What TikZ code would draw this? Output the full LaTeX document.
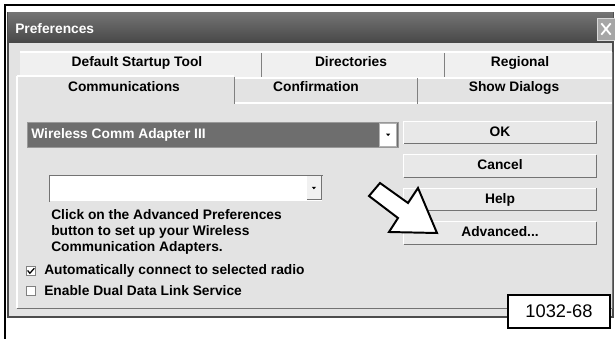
\documentclass[tikz,border=0pt]{standalone}
\usepackage{fontspec}
\setmainfont{Liberation Sans}
\usetikzlibrary{positioning, calc}
\def\BodyColor{black!11}
\def\TitleColor{black!66}
\def\ComboColor{black!57}
\def\BtnColor{black!9}

\begin{document}
\begin{tikzpicture} [x=0.25mm, y=-0.25mm,
     T/.style = {font=\fontsize{9.8}{11.4}\selectfont\bfseries, inner sep=0pt},
   tab/.style = {T, text height=7pt, text depth=2pt},
   btn/.style = {tab, fill=\BtnColor, minimum width=48mm, minimum height=5.5mm},
   chk/.style = {draw=black!50, fill=white, minimum size=2.3mm, inner sep=0pt},
   sep/.style = {draw=black!50, line width=0.7pt},
  dark/.style = {draw=black!55, line width=0.7pt}
]
  \useasboundingbox (0,0) rectangle (615,339);

  % Frame and window
  \draw[line width=0.8pt] (5,339) -- (5,5) -- (615,5);
  \draw[draw=black!70, line width=1pt, fill=\BodyColor] (8,13) rectangle (613,317);
  \fill[top color=black!55, bottom color=black!72] (8,13) rectangle (613,43);
  \node[T, text=white, anchor=west] (title) at (15,29) {Preferences};
  \node[draw=white!85!black, fill=black!35, minimum width=4.5mm, minimum height=5.5mm, inner sep=0pt] (close) at (606,29) {};
  \draw[white, line width=1.3pt] ($(close.north west)!0.25!(close.south east)$) -- ($(close.north west)!0.75!(close.south east)$);
  \draw[white, line width=1.3pt] ($(close.south west)!0.25!(close.north east)$) -- ($(close.south west)!0.75!(close.north east)$);

  % Tabs
  \fill[white!45!\BodyColor] (20,52) rectangle (612,77);
  \draw[white, line width=0.8pt] (20,52) -- (612,52);
  \draw[sep] (261,53) -- (261,77);
  \draw[sep] (444,53) -- (444,77);
  \draw[white, line width=0.8pt] (17,76) -- (234,76);
  \draw[white, line width=0.8pt] (234,78) -- (612,78);
  \draw[white, line width=0.8pt] (234,103) -- (612,103);
  \draw[sep] (234,77) -- (234,104);
  \draw[sep] (417,78) -- (417,104);
  \draw[white, line width=0.8pt] (17,76) -- (17,308);
  \draw[dark] (17,308) -- (612,308) -- (612,52);

  \node[tab] (tdefault) at (137,63) {Default Startup Tool};
  \node[tab] (tdir)     at (351,63) {Directories};
  \node[tab] (treg)     at (520,63) {Regional};
  \node[tab] (tcomm)    at (124,88) {Communications};
  \node[tab] (tconf)    at (316,88) {Confirmation};
  \node[tab] (tshow)    at (514,88) {Show Dialogs};

  % Adapter combo
  \node[draw=black!40, fill=\ComboColor, minimum width=92.75mm, minimum height=6.25mm, inner sep=0pt, anchor=north west] (combo) at (27,122) {};
  \node[T, text=white, anchor=west] (adapter) at (31,134.5) {Wireless Comm Adapter III};
  \node[fill=white, draw=black!30, minimum width=4.3mm, minimum height=5.7mm, inner sep=0pt, anchor=north east] (drop) at (397,123) {};
  \fill ([xshift=-1.5pt,yshift=0.7pt]drop.center) -- ([xshift=1.5pt,yshift=0.7pt]drop.center) -- ([yshift=-1pt]drop.center) -- cycle;

  % Empty combo
  \node[fill=white, minimum width=68.25mm, minimum height=6.5mm, inner sep=0pt, anchor=north west] (combob) at (49,175) {};
  \draw[dark] (combob.south west) -- (combob.north west) -- (combob.north east);
  \node[fill=white!50!\BodyColor, minimum width=3.4mm, minimum height=5.8mm, inner sep=0pt, anchor=north east] (dropb) at (321,176) {};
  \draw[dark] (dropb.north east) -- (dropb.south east) -- (dropb.south west);
  \fill ([xshift=-1.5pt,yshift=0.7pt]dropb.center) -- ([xshift=1.5pt,yshift=0.7pt]dropb.center) -- ([yshift=-1pt]dropb.center) -- cycle;

  \node[T, anchor=north west, align=left] (hint) at (51,209)
    {Click on the Advanced Preferences\\button to set up your Wireless\\Communication Adapters.};

  % Check boxes
  \node[chk] (chka) at (31,271) {};
  \draw[line width=0.9pt] ([xshift=-2.4pt,yshift=0.4pt]chka.center) -- ([xshift=-0.8pt,yshift=-1.6pt]chka.center) -- ([xshift=2.4pt,yshift=2pt]chka.center);
  \node[T, anchor=west] (auto) at (44,271) {Automatically connect to selected radio};
  \node[chk] (chkb) at (31,291) {};
  \node[T, anchor=west] (dual) at (44,291) {Enable Dual Data Link Service};

  % Buttons
  \node[btn] (ok) at (500,132.5) {OK};
  \node[btn] (cancel) [below=2.75mm of ok] {Cancel};
  \node[btn] (help)   [below=2.75mm of cancel] {Help};
  \node[btn] (adv)    [below=2.75mm of help] {Advanced...};
  \foreach \b in {ok, cancel, help, adv} {
    \draw[white, line width=0.7pt] (\b.south west) -- (\b.north west) -- (\b.north east);
    \draw[dark] (\b.north east) -- (\b.south east) -- (\b.south west);
  }

  % Pointer
  \draw[line width=1.4pt, fill=white, line join=miter]
    (380,183) -- (408,203) -- (418,188) -- (437,233) -- (389,232) -- (398,218) -- (369,196) -- cycle;

  % Figure number
  \node[draw, line width=0.8pt, fill=white, minimum width=25.5mm, minimum height=8.25mm,
        font=\fontsize{13}{15}\selectfont] (fignum) at (559,311.5) {1032-68};
\end{tikzpicture}
\end{document}
